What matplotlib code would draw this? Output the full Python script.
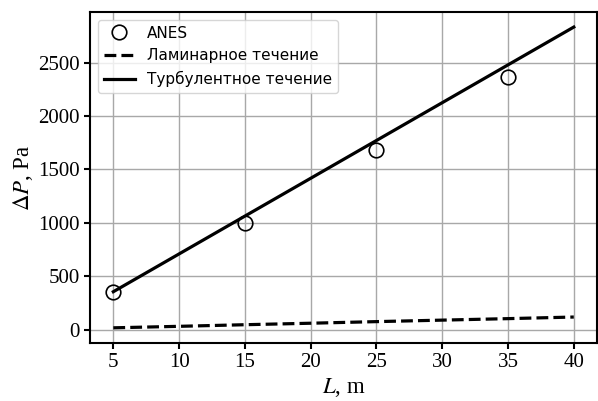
import matplotlib
matplotlib.use('Agg')
import matplotlib.pyplot as plt

# measured points
L_exp = [5, 15, 25, 35]
dP_exp = [355, 1000, 1680, 2365]

# model curves
L_model = [5, 10, 15, 20, 25, 30, 35, 40]
dP_lam = [17, 31, 46, 60, 75, 89, 103, 118]
dP_turb = [355, 709, 1063, 1417, 1771, 2125, 2479, 2833]

plt.rcParams['mathtext.fontset'] = 'stix'

fig = plt.figure(figsize=(5.98, 4.01), dpi=100)
ax = fig.add_axes([0.151, 0.145, 0.847, 0.825])

ax.plot(L_exp, dP_exp, 'o', mfc='none', mec='black', ms=10.5, mew=1.2, label='ANES')
ax.plot(L_model, dP_lam, '--', color='black', lw=2.3, label='Ламинарное течение')
ax.plot(L_model, dP_turb, '-', color='black', lw=2.3, label='Турбулентное течение')

ax.set_xticks([5, 10, 15, 20, 25, 30, 35, 40])
ax.set_yticks([0, 500, 1000, 1500, 2000, 2500])
for lab in ax.get_xticklabels() + ax.get_yticklabels():
    lab.set_family('Liberation Serif')
    lab.set_fontsize(15)
ax.set_xlabel(r'$L$, m', fontsize=16.5, family='Liberation Serif', labelpad=3)
ax.set_ylabel(r'$\Delta P$, Pa', fontsize=16.5, family='Liberation Serif', labelpad=2)
ax.grid(True, color='#a8a8a8', lw=1)
ax.set_axisbelow(True)
for s in ax.spines.values():
    s.set_linewidth(1.5)
ax.tick_params(width=1.5, length=4)

ax.legend(loc='upper left', prop={'family': 'DejaVu Sans', 'size': 11})

fig.savefig('out.png', dpi=100)
